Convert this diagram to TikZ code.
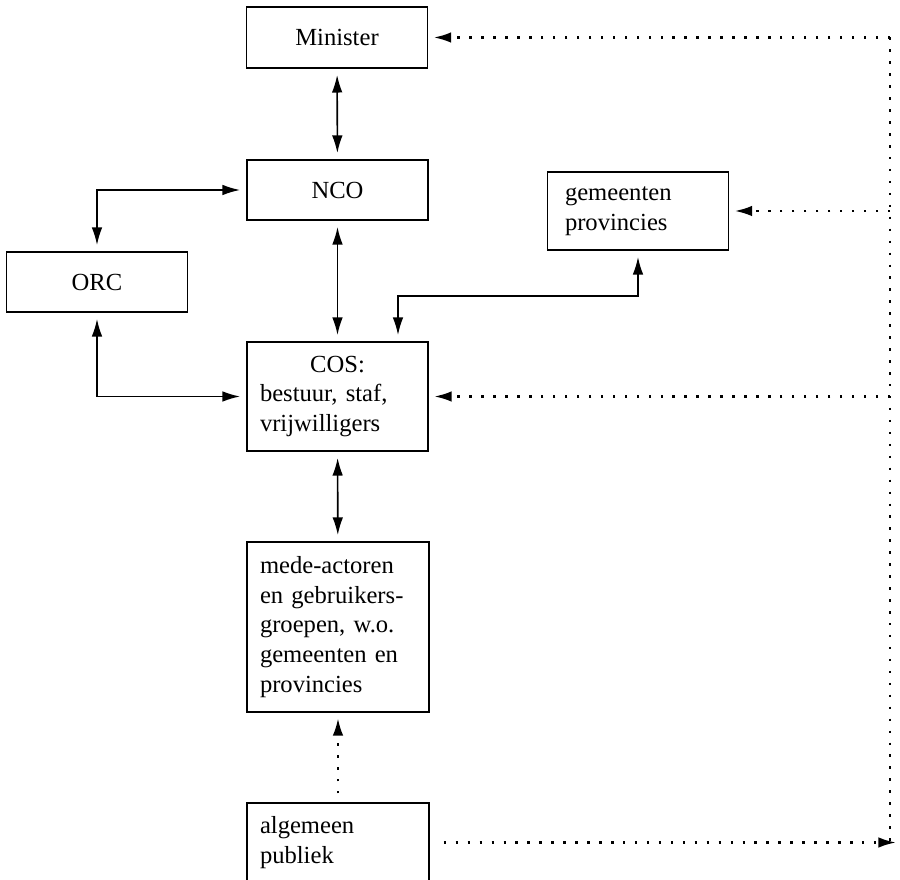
\documentclass[tikz,border=0pt]{standalone}
\usepackage{fontspec}
\setmainfont{Liberation Serif}
\usetikzlibrary{arrows.meta,positioning}

\begin{document}
\begin{tikzpicture}[
font=\fontsize{14}{17}\selectfont,
box/.style={draw,line width=0.9pt,inner sep=0pt,minimum width=3.62cm},
leftbox/.style={box,align=left,inner xsep=0.26cm,text width=3.1cm},
twoway/.style={{Latex[length=10pt,width=6pt]}-{Latex[length=10pt,width=6pt]},line width=0.9pt,shorten >=3.5pt,shorten <=3.5pt},
dotline/.style={line width=1.4pt,dash pattern=on 1.4pt off 5.4pt},
oneway/.style={dotline,-{Latex[length=10pt,width=6pt]},shorten >=3pt}]
    \useasboundingbox (0,0) rectangle (18,17.6);

    % Boxes
    \node[box,minimum height=1.22cm] (minister) at (6.74,16.85) {Minister};
    \node[box,minimum height=1.2cm] (nco) at (6.75,13.8) {NCO};
    \node[box,minimum height=1.2cm] (orc) at (1.94,11.96) {ORC};
    \node[leftbox,text width=2.92cm,inner xsep=0.34cm,minimum height=1.56cm] (gp) at (12.76,13.38)
        {gemeenten\\provincies};
    \node[leftbox,minimum height=2.18cm] (cos) at (6.75,9.67)
        {{\centering COS:\par}bestuur, staf,\\vrijwilligers};
    \node[leftbox,text width=3.12cm,minimum height=3.4cm] (mede) at (6.76,5.06)
        {mede-actoren\\en gebruikers-\\groepen, w.o.\\gemeenten en\\provincies};
    \node[leftbox,text width=3.12cm,minimum height=1.58cm] (publiek) at (6.76,0.75)
        {algemeen\\publiek};

    \draw
    (7.96,11.68) coordinate (gpbend)
    (17.8,0) coordinate (rail)
    (17.92,0) coordinate (railtip);

    % Solid links
    \draw[twoway] (minister) -- (nco);
    \draw[twoway] (nco) -- (cos);
    \draw[twoway] (cos) -- (mede);
    \draw[twoway] (orc.north) |- (nco.west);
    \draw[twoway] (orc.south) |- (cos.west);
    \draw[twoway] (gp.south) |- (gpbend) -- (gpbend |- cos.north);

    % Dotted links
    \draw[oneway,shorten <=5pt] (publiek) -- (mede);
    \draw[oneway,shorten <=0.28cm,shorten >=0pt] (publiek.east) -- (publiek.east -| railtip);
    \draw[dotline] (minister.east -| rail) -- (publiek.east -| rail);
    \draw[oneway] (minister.east -| rail) -- (minister.east);
    \draw[oneway] (gp.east -| rail) -- (gp.east);
    \draw[oneway] (cos.east -| rail) -- (cos.east);

\end{tikzpicture}
\end{document}
